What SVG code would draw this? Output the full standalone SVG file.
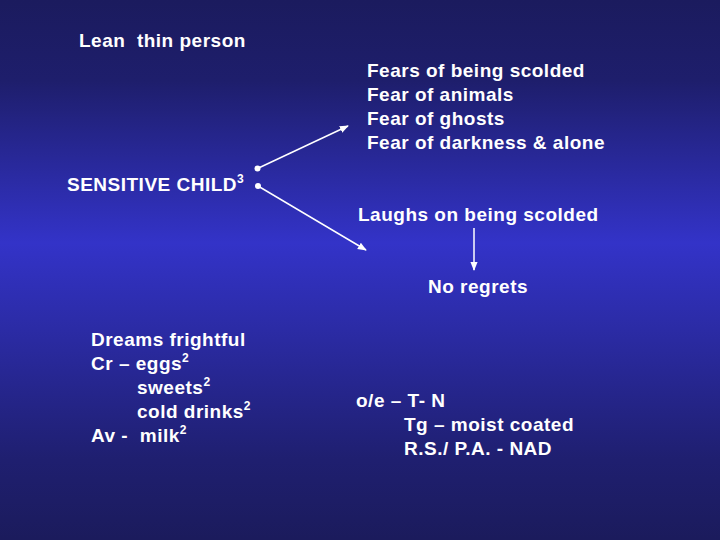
<svg xmlns="http://www.w3.org/2000/svg" width="720" height="540" viewBox="0 0 720 540">
<defs>
<linearGradient id="bg" x1="0" y1="0" x2="0" y2="1">
<stop offset="0" stop-color="#1b1b5e"/>
<stop offset="0.15" stop-color="#1e1e6c"/>
<stop offset="0.45" stop-color="#3333c8"/>
<stop offset="0.85" stop-color="#1f1f70"/>
<stop offset="1" stop-color="#1b1b5c"/>
</linearGradient>
<marker id="ah" viewBox="0 0 10 10" refX="9" refY="5" markerWidth="9" markerHeight="9" markerUnits="userSpaceOnUse" orient="auto">
<path d="M0,1 L10,5 L0,9 Z" fill="#ffffff"/>
</marker>
<style>
text{font-family:"Liberation Sans",Arial,sans-serif;font-weight:bold;font-size:19px;letter-spacing:0.5px;fill:#ffffff}
.sup{font-size:12px;letter-spacing:0}
.con line{stroke:#ffffff;stroke-width:1.5;fill:none}
.dot{fill:#ffffff}
</style>
</defs>
<rect width="720" height="540" fill="url(#bg)"/>
<g id="lean"><text x="79" y="47" xml:space="preserve">Lean  thin person</text></g>
<g id="fears">
<text x="367" y="77">Fears of being scolded</text>
<text x="367" y="101">Fear of animals</text>
<text x="367" y="125">Fear of ghosts</text>
<text x="367" y="149">Fear of darkness &amp; alone</text>
</g>
<g id="sensitive"><text x="67" y="191">SENSITIVE CHILD<tspan class="sup" dy="-8">3</tspan></text></g>
<g id="laughs"><text x="358" y="221">Laughs on being scolded</text></g>
<g id="noregrets"><text x="428" y="293">No regrets</text></g>
<g id="dreams">
<text x="91" y="346">Dreams frightful</text>
<text x="91" y="370">Cr – eggs<tspan class="sup" dy="-8">2</tspan></text>
<text x="137" y="394">sweets<tspan class="sup" dy="-8">2</tspan></text>
<text x="137" y="418">cold drinks<tspan class="sup" dy="-8">2</tspan></text>
<text x="91" y="442" xml:space="preserve">Av -  milk<tspan class="sup" dy="-8">2</tspan></text>
</g>
<g id="oe">
<text x="356" y="407">o/e – T- N</text>
<text x="404" y="431">Tg – moist coated</text>
<text x="404" y="455">R.S./ P.A. - NAD</text>
</g>
<g id="connectors" class="con">
<circle class="dot" cx="257.5" cy="168.5" r="3"/>
<circle class="dot" cx="258" cy="186" r="3"/>
<line x1="257.5" y1="168.5" x2="348" y2="126" marker-end="url(#ah)"/>
<line x1="258" y1="186" x2="366" y2="250" marker-end="url(#ah)"/>
<line x1="474" y1="228" x2="474" y2="270" marker-end="url(#ah)"/>
</g>
</svg>
